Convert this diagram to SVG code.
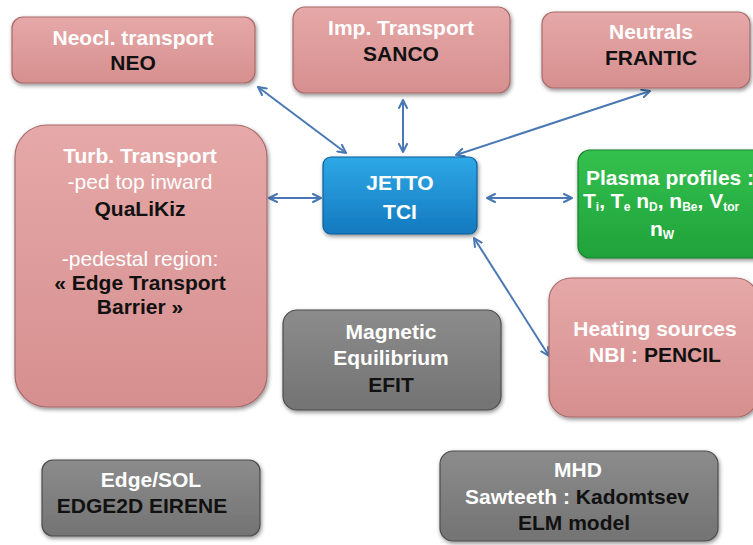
<svg xmlns="http://www.w3.org/2000/svg" width="753" height="545" viewBox="0 0 753 545">
  <defs>
    <linearGradient id="gPink" x1="0" y1="0" x2="0" y2="1">
      <stop offset="0" stop-color="#e6a8a8"/>
      <stop offset="1" stop-color="#d68f8f"/>
    </linearGradient>
    <linearGradient id="gGray" x1="0" y1="0" x2="0" y2="1">
      <stop offset="0" stop-color="#8c8c8c"/>
      <stop offset="1" stop-color="#737373"/>
    </linearGradient>
    <linearGradient id="gBlue" x1="0" y1="0" x2="0" y2="1">
      <stop offset="0" stop-color="#2ea8e6"/>
      <stop offset="1" stop-color="#1479bf"/>
    </linearGradient>
    <linearGradient id="gGreen" x1="0" y1="0" x2="0" y2="1">
      <stop offset="0" stop-color="#35c14e"/>
      <stop offset="1" stop-color="#1fa23a"/>
    </linearGradient>
    <filter id="shadow" x="-10%" y="-10%" width="125%" height="130%">
      <feGaussianBlur in="SourceAlpha" stdDeviation="2"/>
      <feOffset dx="1" dy="2" result="b"/>
      <feComponentTransfer><feFuncA type="linear" slope="0.45"/></feComponentTransfer>
      <feMerge><feMergeNode/><feMergeNode in="SourceGraphic"/></feMerge>
    </filter>
    <marker id="arr" viewBox="0 0 10 10" refX="9" refY="5" markerWidth="10" markerHeight="10" markerUnits="userSpaceOnUse" orient="auto-start-reverse">
      <path d="M1,1 L9,5 L1,9" fill="none" stroke="#4a78b4" stroke-width="2" stroke-linecap="round" stroke-linejoin="round"/>
    </marker>
  </defs>
  <style>
    .pink { fill: url(#gPink); stroke: #a86a6a; stroke-width: 1.2; filter: url(#shadow); }
    .gray { fill: url(#gGray); stroke: #4d4d4d; stroke-width: 1.2; filter: url(#shadow); }
    .blue { fill: url(#gBlue); stroke: #0d5f99; stroke-width: 1.2; filter: url(#shadow); }
    .green { fill: url(#gGreen); stroke: #17802c; stroke-width: 1.2; filter: url(#shadow); }
    text { font-family: "Liberation Sans", Arial, sans-serif; font-size: 21px; text-anchor: middle; }
    .w { fill: #ffffff; font-weight: bold; }
    .wn { fill: #ffffff; font-weight: normal; }
    .k { fill: #111111; font-weight: bold; }
    .sub { font-size: 12px; }
    .conn { fill: none; stroke: #4a78b4; stroke-width: 2; marker-start: url(#arr); marker-end: url(#arr); }
  </style>

  <!-- connectors between JETTO and the modules -->
  <g id="connectors">
    <line class="conn" x1="258" y1="87" x2="346" y2="153"/>
    <line class="conn" x1="403" y1="100" x2="403" y2="152"/>
    <line class="conn" x1="650" y1="91" x2="456" y2="155"/>
    <line class="conn" x1="269" y1="198" x2="321" y2="198"/>
    <line class="conn" x1="487" y1="198" x2="572" y2="198"/>
    <line class="conn" x1="474" y1="238" x2="549" y2="356"/>
  </g>

  <g id="neo">
    <rect class="pink" x="12" y="17" width="243" height="66" rx="11"/>
    <text class="w" x="133" y="45">Neocl. transport</text>
    <text class="k" x="133" y="70">NEO</text>
  </g>

  <g id="sanco">
    <rect class="pink" x="293" y="7" width="217" height="86" rx="12"/>
    <text class="w" x="401" y="35">Imp. Transport</text>
    <text class="k" x="401" y="61">SANCO</text>
  </g>

  <g id="frantic">
    <rect class="pink" x="542" y="12" width="208" height="76" rx="12"/>
    <text class="w" x="651" y="39">Neutrals</text>
    <text class="k" x="651" y="65">FRANTIC</text>
  </g>

  <g id="qualikiz">
    <rect class="pink" x="15" y="125" width="252" height="282" rx="32"/>
    <text class="w" x="140" y="163">Turb. Transport</text>
    <text class="wn" x="140" y="189">-ped top inward</text>
    <text class="k" x="140" y="216">QuaLiKiz</text>
    <text class="wn" x="140" y="266">-pedestal region:</text>
    <text class="k" x="140" y="290">« Edge Transport</text>
    <text class="k" x="140" y="314">Barrier »</text>
  </g>

  <g id="jetto">
    <rect class="blue" x="323" y="157" width="154" height="77" rx="8"/>
    <text class="w" x="400" y="190">JETTO</text>
    <text class="w" x="400" y="219">TCI</text>
  </g>

  <g id="profiles">
    <rect class="green" x="578" y="150" width="190" height="108" rx="12"/>
    <text class="w" x="586" y="185" style="text-anchor:start">Plasma profiles :</text>
    <text class="w" x="583" y="208" style="text-anchor:start">T<tspan class="sub" dy="3">i</tspan><tspan dy="-3">, T</tspan><tspan class="sub" dy="3">e</tspan><tspan dy="-3"> n</tspan><tspan class="sub" dy="3">D</tspan><tspan dy="-3">, n</tspan><tspan class="sub" dy="3">Be</tspan><tspan dy="-3">, V</tspan><tspan class="sub" dy="3">tor</tspan></text>
    <text class="w" x="662" y="236">n<tspan class="sub" dy="3">W</tspan></text>
  </g>

  <g id="pencil">
    <rect class="pink" x="549" y="278" width="209" height="139" rx="22"/>
    <text class="w" x="655" y="336">Heating sources</text>
    <text class="w" x="655" y="362">NBI : <tspan class="k">PENCIL</tspan></text>
  </g>

  <g id="efit">
    <rect class="gray" x="283" y="310" width="218" height="100" rx="14"/>
    <text class="w" x="391" y="339">Magnetic</text>
    <text class="w" x="391" y="365">Equilibrium</text>
    <text class="k" x="391" y="392">EFIT</text>
  </g>

  <g id="edge2d">
    <rect class="gray" x="42" y="460" width="218" height="76" rx="11"/>
    <text class="w" x="151" y="487">Edge/SOL</text>
    <text class="k" x="142" y="513">EDGE2D EIRENE</text>
  </g>

  <g id="mhd">
    <rect class="gray" x="440" y="451" width="278" height="90" rx="13"/>
    <text class="w" x="578" y="477">MHD</text>
    <text class="w" x="577" y="504">Sawteeth : <tspan class="k">Kadomtsev</tspan></text>
    <text class="k" x="574" y="530">ELM model</text>
  </g>
</svg>
